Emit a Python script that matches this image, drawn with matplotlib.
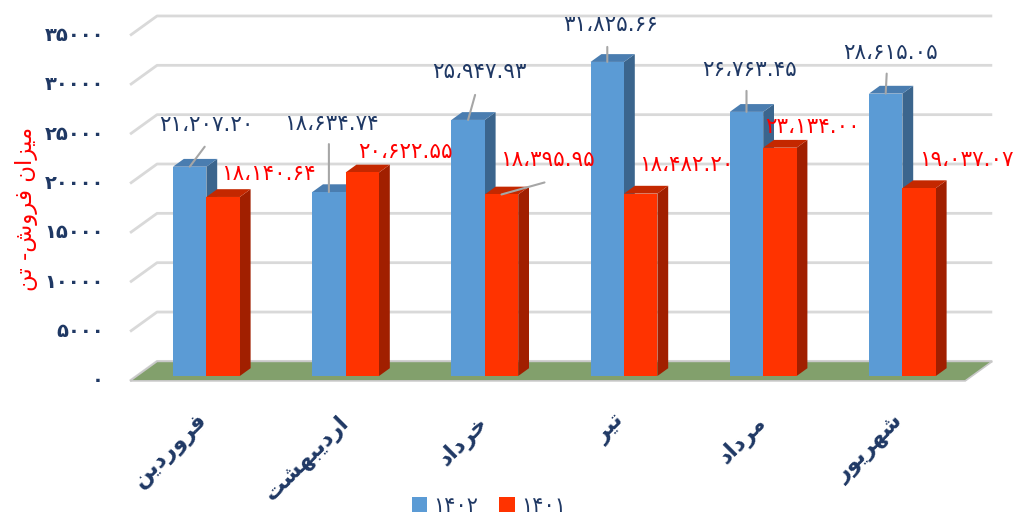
import matplotlib
matplotlib.use('Agg')
import matplotlib.pyplot as plt
from matplotlib.patches import Polygon, Patch

# ---- data ----
months = ['فروردین', 'اردیبهشت', 'خرداد', 'تیر', 'مرداد', 'شهریور']
sales_1402 = [21207.20, 18634.74, 25947.93, 31825.66, 26763.45, 28615.05]
sales_1401 = [18140.64, 20622.55, 18395.95, 18482.20, 23134.00, 19037.07]
y_ticks = [0, 5000, 10000, 15000, 20000, 25000, 30000, 35000]
series_names = ['۱۴۰۲', '۱۴۰۱']
y_title = 'میزان فروش- تن'

# label offsets (pixels) from bar top, and leader line ends
off_1402 = [(17, 42), (2, 68), (11, 48), (3, 37), (3, 42), (5, 41)]
lead_1402 = [(15, 20), (0, 48), (7, 25), (0, 15), (0, 21), (1, 20)]
off_1401 = [(45, 23), (43, 20), (46, 34), (46, 29), (33, 21), (47, 28)]
lead_1401 = [None, None, (43, 12), None, None, None]

NAVY = '#1f3864'
BLUE = ('#5b9bd5', '#4a7db0', '#3b658d')   # front, top, side
RED = ('#ff3300', '#c42800', '#a11f00')
FLOOR = '#82a06c'
GRID = '#d9d9d9'

# ---- simple persian shaping (matplotlib does no arabic joining) ----
FORMS = {
    'ا': ('\uFE8D', '\uFE8E', None, None),
    'ب': ('\uFE8F', '\uFE90', '\uFE91', '\uFE92'),
    'ت': ('\uFE95', '\uFE96', '\uFE97', '\uFE98'),
    'خ': ('\uFEA5', '\uFEA6', '\uFEA7', '\uFEA8'),
    'د': ('\uFEA9', '\uFEAA', None, None),
    'ر': ('\uFEAD', '\uFEAE', None, None),
    'ز': ('\uFEAF', '\uFEB0', None, None),
    'ش': ('\uFEB5', '\uFEB6', '\uFEB7', '\uFEB8'),
    'ف': ('\uFED1', '\uFED2', '\uFED3', '\uFED4'),
    'م': ('\uFEE1', '\uFEE2', '\uFEE3', '\uFEE4'),
    'ن': ('\uFEE5', '\uFEE6', '\uFEE7', '\uFEE8'),
    'ه': ('\uFEE9', '\uFEEA', '\uFEEB', '\uFEEC'),
    'و': ('\uFEED', '\uFEEE', None, None),
    'ی': ('\uFBFC', '\uFBFD', '\uFBFE', '\uFBFF'),
}


def shape(text):
    out = []
    for i, ch in enumerate(text):
        if ch not in FORMS:
            out.append(ch)
            continue
        f = FORMS[ch]
        prev = text[i - 1] if i > 0 else ''
        nxt = text[i + 1] if i + 1 < len(text) else ''
        jp = prev in FORMS and FORMS[prev][2] is not None
        jn = f[2] is not None and nxt in FORMS
        if jp and jn:
            out.append(f[3])
        elif jn:
            out.append(f[2])
        elif jp:
            out.append(f[1])
        else:
            out.append(f[0])
    return ''.join(reversed(out))


FA_DIGITS = str.maketrans('0123456789,', '۰۱۲۳۴۵۶۷۸۹،')


def fa_num(v, dec=2):
    return f'{v:,.{dec}f}'.translate(FA_DIGITS)


plt.rcParams['font.family'] = ['DejaVu Sans']

fig = plt.figure(figsize=(10.18, 5.16), dpi=100)
W, H = 1018, 516
# axes = plane of the bar fronts
ax = fig.add_axes([136.8 / W, 140 / H, 835.2 / W, 345.4 / H])
ax.set_xlim(-0.5, 5.5)
ax.set_ylim(0, 35000)
ax.axis('off')

n = len(months)
DX = 27 / (835.2 / n)          # full depth, category units
DY = 19.5 / 345.4 * 35000      # full depth, value units
front, back = -0.25, 0.75      # floor depth range relative to bar plane
bd = 0.4                       # bar depth fraction
bw = 0.24

# back wall gridlines with left diagonal
for v in y_ticks:
    x_fl, y_fl = -0.5 + front * DX, v + front * DY
    x_bl, y_bl = -0.5 + back * DX, v + back * DY
    x_br = n - 0.5 + back * DX
    ax.plot([x_fl, x_bl, x_br], [y_fl, y_bl, y_bl], color=GRID, lw=2,
            clip_on=False, zorder=1, solid_capstyle='butt')
    ax.annotate(fa_num(v, 0).replace('،', ''), (x_fl, y_fl), xytext=(-26, 0),
                textcoords='offset pixels', ha='right', va='center',
                fontsize=14, fontweight='bold', color=NAVY, annotation_clip=False)

# floor
floor = Polygon([(-0.5 + front * DX, front * DY), (n - 0.5 + front * DX, front * DY),
                 (n - 0.5 + back * DX, back * DY), (-0.5 + back * DX, back * DY)],
                closed=True, facecolor=FLOOR, edgecolor='#c8c8c8', lw=1.2,
                clip_on=False, zorder=2)
ax.add_patch(floor)


def draw_bar(xc, v, cols, z):
    x0, x1 = xc - bw / 2, xc + bw / 2
    ddx, ddy = bd * DX, bd * DY
    side = Polygon([(x1, 0), (x1, v), (x1 + ddx, v + ddy), (x1 + ddx, ddy)],
                   closed=True, facecolor=cols[2], lw=0, clip_on=False, zorder=z)
    top = Polygon([(x0, v), (x1, v), (x1 + ddx, v + ddy), (x0 + ddx, v + ddy)],
                  closed=True, facecolor=cols[1], lw=0, clip_on=False, zorder=z)
    ax.add_patch(side)
    ax.add_patch(top)
    ax.bar(xc, v, width=bw, color=cols[0], lw=0, zorder=z, clip_on=False)


for i in range(n):
    draw_bar(i - bw / 2, sales_1402[i], BLUE, 3 + 2 * i)
    draw_bar(i + bw / 2, sales_1401[i], RED, 4 + 2 * i)

# data labels
for i in range(n):
    for vals, offs, leads, col, sgn in ((sales_1402, off_1402, lead_1402, NAVY, -1),
                                         (sales_1401, off_1401, lead_1401, '#ff0000', 1)):
        xy = (i + sgn * bw / 2, vals[i])
        if leads[i] is not None:
            ax.annotate('', xy=xy, xytext=leads[i], textcoords='offset pixels',
                        arrowprops=dict(arrowstyle='-', color='#a6a6a6', lw=1.5,
                                        shrinkA=0, shrinkB=0), zorder=20,
                        annotation_clip=False)
        ax.annotate(fa_num(vals[i]), xy, xytext=offs[i], textcoords='offset pixels',
                    ha='center', va='center', fontsize=15.5, color=col, zorder=21,
                    annotation_clip=False)

# category labels
for i, m in enumerate(months):
    ax.annotate(shape(m), (i + front * DX, front * DY), xytext=(-2, -30),
                textcoords='offset pixels', rotation=45, rotation_mode='anchor',
                ha='right', va='top', fontsize=16, fontweight='bold', color=NAVY,
                annotation_clip=False)

# y title
fig.text(27 / W, 1 - 209 / H, shape(y_title), rotation=90, ha='center', va='center',
         fontsize=16.5, color='#ff0000')

# legend
handles = [Patch(facecolor=BLUE[0]), Patch(facecolor=RED[0])]
fig.legend(handles, series_names, loc='center', ncol=2, frameon=False,
           bbox_to_anchor=(489 / W, 1 - 506 / H), fontsize=15, labelcolor=NAVY,
           handlelength=0.75, handleheight=0.75, handletextpad=0.3, columnspacing=1.0)

fig.savefig('out.png', dpi=100)
